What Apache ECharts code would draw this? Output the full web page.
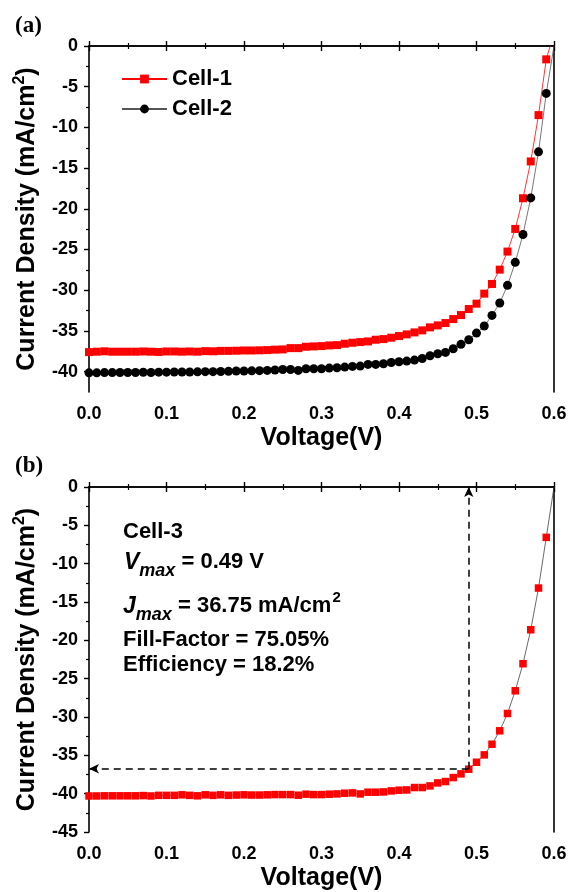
<!DOCTYPE html>
<html>
<head>
<meta charset="utf-8">
<script src="https://cdn.jsdelivr.net/npm/echarts@6/dist/echarts.min.js"></script>
<style>
html, body { margin: 0; padding: 0; background: #fff; }
#main { width: 570px; height: 892px; }
</style>
</head>
<body>
<div id="main"></div>
<script>
// voltage sweep (V), one point every 10 mV
var voltage = [
    0.00, 0.01, 0.02, 0.03, 0.04, 0.05, 0.06, 0.07, 0.08, 0.09,
    0.10, 0.11, 0.12, 0.13, 0.14, 0.15, 0.16, 0.17, 0.18, 0.19,
    0.20, 0.21, 0.22, 0.23, 0.24, 0.25, 0.26, 0.27, 0.28, 0.29,
    0.30, 0.31, 0.32, 0.33, 0.34, 0.35, 0.36, 0.37, 0.38, 0.39,
    0.40, 0.41, 0.42, 0.43, 0.44, 0.45, 0.46, 0.47, 0.48, 0.49,
    0.50, 0.51, 0.52, 0.53, 0.54, 0.55, 0.56, 0.57, 0.58, 0.59
];
// current density (mA/cm2)
var cell1 = [
    -37.60, -37.55, -37.50, -37.55, -37.55, -37.55, -37.55, -37.52, -37.55, -37.58,
    -37.52, -37.52, -37.55, -37.52, -37.55, -37.48, -37.50, -37.45, -37.45, -37.43,
    -37.40, -37.40, -37.38, -37.35, -37.30, -37.27, -37.11, -37.11, -36.94, -36.90,
    -36.86, -36.78, -36.74, -36.57, -36.45, -36.37, -36.29, -36.08, -36.00, -35.83,
    -35.63, -35.42, -35.18, -34.93, -34.56, -34.32, -34.03, -33.54, -33.05, -32.31,
    -31.65, -30.42, -29.23, -27.47, -25.25, -22.47, -18.70, -14.18, -8.49, -1.64
];
var cell2 = [
    -40.15, -40.15, -40.12, -40.12, -40.10, -40.10, -40.10, -40.08, -40.10, -40.06,
    -40.06, -40.05, -40.04, -40.04, -40.02, -40.00, -40.00, -39.98, -39.96, -39.92,
    -39.92, -39.90, -39.88, -39.85, -39.80, -39.73, -39.73, -39.85, -39.65, -39.65,
    -39.65, -39.56, -39.52, -39.44, -39.36, -39.32, -39.11, -39.11, -39.03, -38.87,
    -38.79, -38.70, -38.58, -38.38, -38.05, -37.80, -37.64, -37.19, -36.65, -36.08,
    -35.26, -34.40, -33.09, -31.57, -29.40, -26.57, -23.16, -18.66, -13.00, -5.82
];
var cell3 = [
    -40.30, -40.30, -40.28, -40.28, -40.28, -40.28, -40.28, -40.25, -40.30, -40.22,
    -40.22, -40.22, -40.15, -40.22, -40.28, -40.15, -40.22, -40.15, -40.22, -40.18,
    -40.15, -40.18, -40.18, -40.15, -40.12, -40.12, -40.12, -40.20, -40.07, -40.12,
    -40.12, -40.07, -40.03, -39.94, -39.90, -40.03, -39.81, -39.81, -39.77, -39.64,
    -39.55, -39.51, -39.20, -39.20, -38.99, -38.60, -38.42, -37.90, -37.42, -36.81,
    -35.90, -34.94, -33.55, -31.80, -29.54, -26.58, -23.05, -18.62, -13.18, -6.57
];
// where each fitted line leaves the top of the frame (no marker)
var cell1End = [0.595, 0];
var cell2End = [0.600, 0];
var cell3End = [0.600, 0];

// max power point of cell-3
var vMax = 0.49;
var jMax = 36.75;

// y tick values
var ticksA = [0, -5, -10, -15, -20, -25, -30, -35, -40];
var minorA = [-2.5, -7.5, -12.5, -17.5, -22.5, -27.5, -32.5, -37.5];
var ticksB = [0, -5, -10, -15, -20, -25, -30, -35, -40, -45];
var minorB = [-2.5, -7.5, -12.5, -17.5, -22.5, -27.5, -32.5, -37.5, -42.5];

var FONT = '"Liberation Sans", Arial, sans-serif';

function pairs(ys, end) {
    var out = voltage.map(function (v, i) { return [v, ys[i]]; });
    out.push({ value: end, symbol: 'none' });
    return out;
}

var axisLine = { show: true, lineStyle: { color: '#000', width: 1.6 } };
var tickLabel = { color: '#000', fontFamily: FONT, fontWeight: 'bold', fontSize: 18 };

function xAxes(grid) {
    return [{
        type: 'value', gridIndex: grid, position: 'bottom', min: 0, max: 0.6, interval: 0.1,
        name: 'Voltage(V)', nameLocation: 'middle', nameGap: 34,
        nameTextStyle: { color: '#000', fontFamily: FONT, fontWeight: 'bold', fontSize: 25 },
        axisLine: axisLine,
        axisTick: { show: true, inside: false, length: 5, lineStyle: { color: '#000', width: 1.4 } },
        minorTick: { show: true, splitNumber: 2, length: 3, lineStyle: { color: '#000', width: 1.2 } },
        axisLabel: Object.assign({ margin: 13, formatter: function (v) { return v.toFixed(1); } }, tickLabel),
        splitLine: { show: false }
    }, {
        type: 'value', gridIndex: grid, position: 'top', min: 0, max: 0.6, interval: 0.1,
        axisLine: axisLine,
        axisTick: { show: true, inside: false, length: 5, lineStyle: { color: '#000', width: 1.4 } },
        minorTick: { show: true, splitNumber: 2, length: 3, lineStyle: { color: '#000', width: 1.2 } },
        axisLabel: { show: false },
        splitLine: { show: false }
    }];
}

function yAxes(grid, min, majors, minors) {
    return [{
        type: 'value', gridIndex: grid, position: 'left', min: min, max: 0,
        name: '{a|Current Density (mA/cm}{s|2}{a|)}', nameLocation: 'middle', nameGap: 51,
        nameTextStyle: {
            rich: {
                a: { color: '#000', fontFamily: FONT, fontWeight: 'bold', fontSize: 25, lineHeight: 26, verticalAlign: 'top', padding: [3, 0, 0, 0] },
                s: { color: '#000', fontFamily: FONT, fontWeight: 'bold', fontSize: 16, lineHeight: 16, verticalAlign: 'top' }
            }
        },
        axisLine: axisLine,
        axisTick: { show: true, inside: false, length: 5, customValues: majors, lineStyle: { color: '#000', width: 1.4 } },
        axisLabel: Object.assign({ margin: 11, customValues: majors }, tickLabel),
        splitLine: { show: false }
    }, {
        type: 'value', gridIndex: grid, position: 'left', min: min, max: 0,
        axisLine: { show: false },
        axisTick: { show: true, inside: false, length: 3, customValues: minors, lineStyle: { color: '#000', width: 1.2 } },
        axisLabel: { show: false },
        splitLine: { show: false }
    }, {
        type: 'value', gridIndex: grid, position: 'right', min: min, max: 0,
        axisLine: axisLine,
        axisTick: { show: false },
        axisLabel: { show: false },
        splitLine: { show: false }
    }];
}

var annFont = { fontFamily: FONT, fontWeight: 'bold', fontSize: 22, fill: '#000' };
var richMain = { fontFamily: FONT, fontWeight: 'bold', fontSize: 22, lineHeight: 22, verticalAlign: 'top', padding: [5, 0, 0, 0], fill: '#000' };
var richIt = { fontFamily: FONT, fontWeight: 'bold', fontStyle: 'italic', fontSize: 23, lineHeight: 22, verticalAlign: 'top', padding: [5, 0, 0, 0], fill: '#000' };
var richSub = { fontFamily: FONT, fontWeight: 'bold', fontStyle: 'italic', fontSize: 18, lineHeight: 17, verticalAlign: 'top', padding: [16, 0, 0, 0], fill: '#000' };
var richSup = { fontFamily: FONT, fontWeight: 'bold', fontSize: 15, lineHeight: 14, verticalAlign: 'top', padding: [0, 0, 0, 1], fill: '#000' };

var option = {
    animation: false,
    backgroundColor: '#fff',
    grid: [
        { left: 89, top: 46, width: 465, height: 346 },
        { left: 89, top: 487, width: 465, height: 345 }
    ],
    legend: {
        left: 116, top: 63, orient: 'vertical', itemWidth: 45, itemHeight: 11, itemGap: 8,
        textStyle: { color: '#000', fontFamily: FONT, fontWeight: 'bold', fontSize: 22, lineHeight: 22 },
        data: ['Cell-1', 'Cell-2']
    },
    xAxis: xAxes(0).concat(xAxes(1)),
    yAxis: yAxes(0, -42.5, ticksA, minorA).concat(yAxes(1, -45, ticksB, minorB)),
    graphic: [
        { type: 'text', left: 15, top: 15, style: { text: '(a)', font: 'bold 23px "Liberation Serif", "Times New Roman", serif', fill: '#000' } },
        { type: 'text', left: 15, top: 455, style: { text: '(b)', font: 'bold 23px "Liberation Serif", "Times New Roman", serif', fill: '#000' } },
        { type: 'text', left: 123, top: 521, style: Object.assign({ text: 'Cell-3' }, annFont) },
        { type: 'text', left: 124, top: 546, style: {
            text: '{i|V}{s|max}{n| = ' + vMax.toFixed(2) + ' V}',
            rich: { i: richIt, s: richSub, n: richMain }
        } },
        { type: 'text', left: 123, top: 590, style: {
            text: '{i|J}{s|max}{n| = ' + jMax.toFixed(2) + ' mA/cm}{p|2}',
            rich: { i: richIt, s: richSub, n: richMain, p: richSup }
        } },
        { type: 'text', left: 123, top: 629, style: Object.assign({ text: 'Fill-Factor = 75.05%' }, annFont) },
        { type: 'text', left: 123, top: 654, style: Object.assign({ text: 'Efficiency = 18.2%' }, annFont) }
    ],
    series: [{
        name: 'Cell-1', type: 'line', xAxisIndex: 0, yAxisIndex: 0,
        data: pairs(cell1, cell1End),
        symbol: 'rect', symbolSize: 8,
        itemStyle: { color: '#ff0000' },
        lineStyle: { color: '#ff0000', width: 0.8 }
    }, {
        name: 'Cell-2', type: 'line', xAxisIndex: 0, yAxisIndex: 0,
        data: pairs(cell2, cell2End),
        symbol: 'circle', symbolSize: 9,
        itemStyle: { color: '#000' },
        lineStyle: { color: '#555', width: 0.8 }
    }, {
        name: 'Cell-3', type: 'line', xAxisIndex: 2, yAxisIndex: 3,
        data: pairs(cell3, cell3End),
        symbol: 'rect', symbolSize: 7.5,
        itemStyle: { color: '#ff0000' },
        lineStyle: { color: '#444', width: 0.8 },
        markLine: {
            silent: true,
            symbol: ['none', 'arrow'],
            symbolSize: [7, 10],
            label: { show: false },
            lineStyle: { color: '#000', type: [7, 5], width: 1.5 },
            data: [
                [{ coord: [vMax, -jMax] }, { coord: [vMax, 0] }],
                [{ coord: [vMax, -jMax] }, { coord: [0, -jMax] }]
            ]
        }
    }]
};

var chart = echarts.init(document.getElementById('main'));
chart.setOption(option);
</script>
</body>
</html>
